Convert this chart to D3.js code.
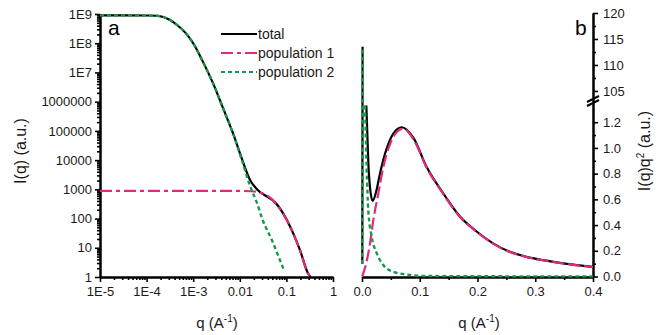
<!DOCTYPE html>
<html>
<head>
<meta charset="utf-8">
<script src="https://cdn.jsdelivr.net/npm/d3@7"></script>
<style>
  body { margin: 0; background: #fff; }
  svg { display: block; font-family: "Liberation Sans", Arial, sans-serif; }
  .axis text { font-size: 13px; fill: #1a1a1a; font-family: "Liberation Sans", Arial, sans-serif; }
  .axis path, .axis line { stroke: #000; }
  .title { font-size: 15px; fill: #1a1a1a; }
</style>
</head>
<body>
<svg class="chart" width="664" height="335"></svg>
<script>
// panel a : I(q) on log-log axes
const aXTicks = [1e-5, 1e-4, 1e-3, 0.01, 0.1, 1];
const aXLabels = ['1E-5', '1E-4', '1E-3', '0.01', '0.1', '1'];
const aYTicks = [1, 10, 100, 1000, 1e4, 1e5, 1e6, 1e7, 1e8, 1e9];
const aYLabels = ['1', '10', '100', '1000', '10000', '100000', '1000000', '1E7', '1E8', '1E9'];

const aTotalQ = [1e-5, 1e-4, 1.67e-4, 3.2e-4, 4.5e-4, 6.6e-4, 1e-3, 1.62e-3, 2.66e-3, 4.37e-3, 7.1e-3, 0.0109, 0.0166, 0.0245, 0.04, 0.0565, 0.0846, 0.131, 0.196, 0.29, 0.33];
const aTotal = [9e8, 8.9e8, 8.7e8, 6.2e8, 4.2e8, 2.4e8, 1e8, 2.3e7, 4.3e6, 6e5, 8.5e4, 1.2e4, 2.1e3, 930, 540, 365, 153, 40, 8.3, 1.35, 1];

const aPop1Q = [1e-5, 1e-4, 1e-3, 0.01, 0.018, 0.04, 0.0565, 0.0846, 0.131, 0.196, 0.29, 0.33];
const aPop1 = [890, 890, 890, 880, 860, 590, 360, 150, 39, 8.2, 1.33, 1];

const aPop2Q = [1e-5, 1e-4, 1.67e-4, 3.2e-4, 4.5e-4, 6.6e-4, 1e-3, 1.62e-3, 2.66e-3, 4.37e-3, 7.1e-3, 0.0109, 0.0166, 0.0234, 0.031, 0.049, 0.066, 0.0886];
const aPop2 = [9e8, 8.9e8, 8.7e8, 6.2e8, 4.2e8, 2.4e8, 1e8, 2.3e7, 4.3e6, 6e5, 8.5e4, 1.1e4, 1.3e3, 340, 89, 18, 5.6, 1.7];

// panel b : I(q)q^2 on linear axes with a broken y axis
const bXTicks = [0, 0.1, 0.2, 0.3, 0.4];
const bXLabels = ['0.0', '0.1', '0.2', '0.3', '0.4'];
const bYLowTicks = [0, 0.2, 0.4, 0.6, 0.8, 1.0, 1.2];
const bYLowLabels = ['0.0', '0.2', '0.4', '0.6', '0.8', '1.0', '1.2'];
const bYHighTicks = [105, 110, 115, 120];
const bYHighLabels = ['105', '110', '115', '120'];

const bTotalQ = [0.0005, 0.001, 0.004, 0.0075, 0.011, 0.0139, 0.0185, 0.0245, 0.0312, 0.0428, 0.0542, 0.0687, 0.0888, 0.112, 0.141, 0.170, 0.199, 0.227, 0.256, 0.285, 0.314, 0.343, 0.372, 0.4];
const bTotal = [0.1, 113.5, 40, 1.33, 0.88, 0.69, 0.588, 0.66, 0.802, 0.996, 1.112, 1.161, 1.08, 0.851, 0.644, 0.464, 0.348, 0.258, 0.192, 0.153, 0.127, 0.106, 0.088, 0.075];

const bPop1Q = [0, 0.0023, 0.0139, 0.0196, 0.0282, 0.0369, 0.0485, 0.0629, 0.0715, 0.0888, 0.112, 0.141, 0.170, 0.199, 0.227, 0.256, 0.285, 0.314, 0.343, 0.372, 0.4];
const bPop1 = [0, 0.025, 0.258, 0.439, 0.644, 0.851, 1.03, 1.135, 1.149, 1.07, 0.845, 0.64, 0.461, 0.346, 0.256, 0.19, 0.152, 0.126, 0.105, 0.087, 0.074];

const bPop2Q = [0.0005, 0.001, 0.003, 0.0052, 0.0109, 0.0168, 0.0255, 0.0369, 0.0542, 0.083, 0.112, 0.2, 0.3, 0.4];
const bPop2 = [0.1, 113.5, 40, 1.33, 0.515, 0.309, 0.181, 0.089, 0.037, 0.012, 0.004, 0.002, 0.001, 0.001];

const legendNames = ['total', 'population 1', 'population 2'];

const colors = { total: '#000000', pop1: '#e5287f', pop2: '#17994a' };
const dashes = { total: null, pop1: '12,4,4,4', pop2: '4,3' };

const svg = d3.select('.chart');

// ---------- panel a ----------
const xa = d3.scaleLog().domain([1e-5, 1]).range([100, 333]);
const ya = d3.scaleLog().domain([1, 1e9]).range([277, 14]);

const minorDecades = (lo, hi) => {
  const out = [];
  for (let e = lo; e < hi; e++) {
    for (let m = 2; m <= 9; m++) out.push(m * Math.pow(10, e));
  }
  return out;
};

const ga = svg.append('g');

ga.append('g')
  .attr('class', 'axis')
  .attr('transform', 'translate(0,277)')
  .call(d3.axisBottom(xa).tickValues(minorDecades(-5, 0)).tickSize(3).tickSizeOuter(0).tickFormat(''));

ga.append('g')
  .attr('class', 'axis')
  .attr('transform', 'translate(0,277)')
  .call(d3.axisBottom(xa).tickValues(aXTicks).tickSize(5).tickSizeOuter(0).tickPadding(5)
    .tickFormat((d, i) => aXLabels[i]));

ga.append('g')
  .attr('class', 'axis')
  .attr('transform', 'translate(100,0)')
  .call(d3.axisLeft(ya).tickValues(minorDecades(0, 9)).tickSize(3).tickSizeOuter(0).tickFormat(''));

ga.append('g')
  .attr('class', 'axis')
  .attr('transform', 'translate(100,0)')
  .call(d3.axisLeft(ya).tickValues(aYTicks).tickSize(5).tickSizeOuter(0).tickPadding(3)
    .tickFormat((d, i) => aYLabels[i]));

const lineA = (qs) => d3.line()
  .x((d, i) => xa(qs[i]))
  .y((d) => ya(d))
  .curve(d3.curveMonotoneX);

ga.append('path')
  .attr('d', lineA(aTotalQ)(aTotal))
  .attr('fill', 'none').attr('stroke', colors.total).attr('stroke-width', 2.2);
ga.append('path')
  .attr('d', lineA(aPop1Q)(aPop1))
  .attr('fill', 'none').attr('stroke', colors.pop1).attr('stroke-width', 2.2)
  .attr('stroke-dasharray', dashes.pop1);
ga.append('path')
  .attr('d', lineA(aPop2Q)(aPop2))
  .attr('fill', 'none').attr('stroke', colors.pop2).attr('stroke-width', 2.4)
  .attr('stroke-dasharray', dashes.pop2);

ga.append('text')
  .attr('x', 108).attr('y', 35)
  .style('font-size', '21px')
  .text('a');

// legend
const legend = ga.append('g').attr('transform', 'translate(221,0)');
const legendKeys = ['total', 'pop1', 'pop2'];
legendKeys.forEach((k, i) => {
  const yy = 34 + i * 19;
  legend.append('line')
    .attr('x1', 0).attr('x2', 36).attr('y1', yy).attr('y2', yy)
    .attr('stroke', colors[k]).attr('stroke-width', 2.2)
    .attr('stroke-dasharray', dashes[k]);
  legend.append('text')
    .attr('x', 37).attr('y', yy + 5)
    .style('font-size', '14px')
    .attr('fill', '#1a1a1a')
    .text(legendNames[i]);
});

ga.append('text')
  .attr('class', 'title')
  .attr('transform', 'translate(26,151) rotate(-90)')
  .attr('text-anchor', 'middle')
  .style('font-size', '16px')
  .text('I(q) (a.u.)');

const qTitle = (g, cx) => {
  const t = g.append('text')
    .attr('class', 'title')
    .attr('x', cx).attr('y', 328)
    .attr('text-anchor', 'middle')
    .style('font-size', '15px');
  t.append('tspan').text('q (A');
  t.append('tspan').attr('dy', -6).style('font-size', '10px').text('-1');
  t.append('tspan').attr('dy', 6).text(')');
};
qTitle(ga, 217);

// ---------- panel b ----------
const xb = d3.scaleLinear().domain([0, 0.4]).range([362, 593]);
const breakLow = 1.33;
const breakHigh = 102.2;
const yb = d3.scaleLinear()
  .domain([0, breakLow, breakHigh, 120])
  .range([276.5, 105.5, 105.5, 13]);

const gb = svg.append('g');

gb.append('g')
  .attr('class', 'axis')
  .attr('transform', 'translate(0,277)')
  .call(d3.axisBottom(xb).tickValues([0.05, 0.15, 0.25, 0.35]).tickSize(3).tickSizeOuter(0).tickFormat(''));

gb.append('g')
  .attr('class', 'axis')
  .attr('transform', 'translate(0,277)')
  .call(d3.axisBottom(xb).tickValues(bXTicks).tickSize(5).tickSizeOuter(0).tickPadding(5)
    .tickFormat((d, i) => bXLabels[i]));

gb.append('g')
  .attr('class', 'axis')
  .attr('transform', 'translate(593,0)')
  .call(d3.axisRight(yb).tickValues([0.1, 0.3, 0.5, 0.7, 0.9, 1.1, 107.5, 112.5, 117.5]).tickSize(3).tickSizeOuter(0).tickFormat(''));

gb.append('g')
  .attr('class', 'axis')
  .attr('transform', 'translate(593,0)')
  .call(d3.axisRight(yb).tickValues(bYLowTicks.concat(bYHighTicks)).tickSize(5).tickSizeOuter(0).tickPadding(5)
    .tickFormat((d, i) => bYLowLabels.concat(bYHighLabels)[i]));

svg.selectAll('.axis line').attr('stroke-width', 1.6);
svg.selectAll('.axis path.domain').attr('stroke-width', 2);

// axis break marks
[0, 4].forEach((off) => {
  gb.append('line')
    .attr('x1', 587).attr('y1', 106 - off)
    .attr('x2', 599).attr('y2', 100 - off)
    .attr('stroke', '#000').attr('stroke-width', 2);
});

const lineB = (qs) => d3.line()
  .defined((d) => d <= breakLow + 1e-6 || d >= breakHigh)
  .x((d, i) => xb(qs[i]))
  .y((d) => yb(d))
  .curve(d3.curveMonotoneX);

gb.append('path')
  .attr('d', lineB(bTotalQ)(bTotal))
  .attr('fill', 'none').attr('stroke', colors.total).attr('stroke-width', 2.2);
gb.append('path')
  .attr('d', lineB(bPop1Q)(bPop1))
  .attr('fill', 'none').attr('stroke', colors.pop1).attr('stroke-width', 2.2)
  .attr('stroke-dasharray', '12,4');
gb.append('path')
  .attr('d', lineB(bPop2Q)(bPop2))
  .attr('fill', 'none').attr('stroke', colors.pop2).attr('stroke-width', 2.4)
  .attr('stroke-dasharray', dashes.pop2);

gb.append('text')
  .attr('x', 575).attr('y', 35)
  .style('font-size', '21px')
  .text('b');

const rt = gb.append('text')
  .attr('class', 'title')
  .attr('transform', 'translate(650,151) rotate(-90)')
  .attr('text-anchor', 'middle')
  .style('font-size', '16px');
rt.append('tspan').text('I(q)q');
rt.append('tspan').attr('dy', -6).style('font-size', '10px').text('2');
rt.append('tspan').attr('dy', 6).text(' (a.u.)');

qTitle(gb, 479);
</script>
</body>
</html>
